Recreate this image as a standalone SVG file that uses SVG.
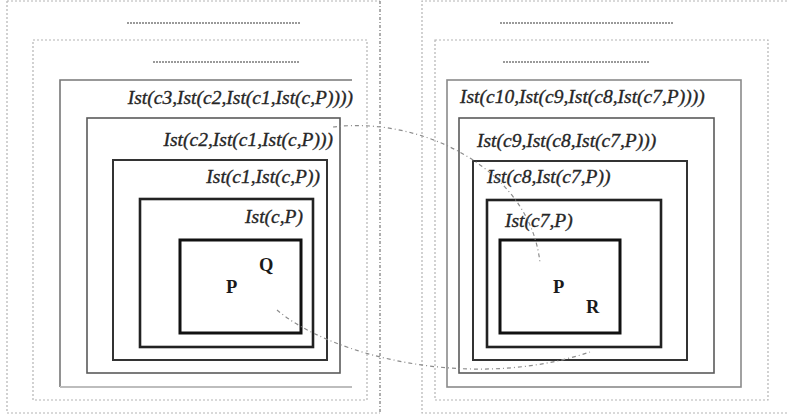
<svg xmlns="http://www.w3.org/2000/svg" width="787" height="416" viewBox="0 0 787 416">
  <style>
    .frame { fill: none; stroke: #b4b4b4; stroke-width: 1.2; stroke-dasharray: 2 2; }
    .frame-dark { fill: none; stroke: #777; stroke-width: 1.2; stroke-dasharray: 3 2 1 2; }
    .stub { fill: none; stroke: #9a9a9a; stroke-width: 1.8; stroke-dasharray: 2 1; }
    .b3 { fill: none; stroke: #8a8a8a; stroke-width: 1.6; }
    .b4 { fill: none; stroke: #5a5a5a; stroke-width: 1.6; }
    .b5 { fill: none; stroke: #333; stroke-width: 2; }
    .b6 { fill: none; stroke: #222; stroke-width: 2.6; }
    .b7 { fill: none; stroke: #111; stroke-width: 3; }
    .lbl { font-family: "Liberation Serif", "Times New Roman", serif; font-style: italic; font-size: 19.5px; fill: #262626; stroke: #262626; stroke-width: 0.35; }
    .sym { font-family: "Liberation Serif", "Times New Roman", serif; font-weight: bold; font-size: 18.5px; fill: #1a1a1a; }
    .link { fill: none; stroke: #8c8c8c; stroke-width: 1.2; stroke-dasharray: 4 3 1 3; }
  </style>

  <!-- left context tower -->
  <g id="left-outer">
    <path class="frame" d="M7,1 H380"/>
    <path class="frame" d="M7,1 V413 H380"/>
    <path class="frame-dark" d="M380,1 V413"/>
    <path class="stub" d="M127,23 H300"/>
  </g>
  <g id="left-frame2">
    <rect class="frame" x="33" y="40" width="334" height="360"/>
    <path class="stub" d="M153,62 H300"/>
  </g>
  <g id="left-c3">
    <path fill="none" stroke="#777" stroke-width="1.6" d="M352,80 H60 V387"/>
    <path fill="none" stroke="#bdbdbd" stroke-width="2" d="M60,387 H352"/>
    <text class="lbl" x="353" y="104" text-anchor="end">Ist(c3,Ist(c2,Ist(c1,Ist(c,P))))</text>
  </g>
  <g id="left-c2">
    <rect class="b4" x="87" y="118" width="253" height="255"/>
    <text class="lbl" x="333" y="146" text-anchor="end">Ist(c2,Ist(c1,Ist(c,P)))</text>
  </g>
  <g id="left-c1">
    <rect class="b5" x="113" y="160" width="214" height="200"/>
    <text class="lbl" x="320" y="183" text-anchor="end">Ist(c1,Ist(c,P))</text>
  </g>
  <g id="left-c">
    <rect class="b6" x="140" y="199" width="173" height="148"/>
    <text class="lbl" x="303" y="223" text-anchor="end">Ist(c,P)</text>
  </g>
  <g id="left-core">
    <rect class="b7" x="180" y="240" width="121" height="93"/>
    <text class="sym" x="259" y="271">Q</text>
    <text class="sym" x="226" y="293">P</text>
  </g>

  <!-- right context tower -->
  <g id="right-outer">
    <path class="frame" d="M787,1 H422 V413 H787"/>
    <path class="stub" d="M500,23 H673"/>
  </g>
  <g id="right-frame2">
    <rect class="frame" x="435" y="40" width="333" height="360"/>
    <path class="stub" d="M503,62 H650"/>
  </g>
  <g id="right-c10">
    <rect class="b3" x="447" y="80" width="294" height="307"/>
    <text class="lbl" x="460" y="103">Ist(c10,Ist(c9,Ist(c8,Ist(c7,P))))</text>
  </g>
  <g id="right-c9">
    <rect class="b4" x="459" y="118" width="255" height="255"/>
    <text class="lbl" x="477" y="147">Ist(c9,Ist(c8,Ist(c7,P)))</text>
  </g>
  <g id="right-c8">
    <rect class="b5" x="473" y="161" width="214" height="199"/>
    <text class="lbl" x="487" y="183">Ist(c8,Ist(c7,P))</text>
  </g>
  <g id="right-c7">
    <rect class="b6" x="487" y="200" width="174" height="147"/>
    <text class="lbl" x="505" y="227">Ist(c7,P)</text>
  </g>
  <g id="right-core">
    <rect class="b7" x="500" y="240" width="120" height="93" stroke="#333"/>
    <text class="sym" x="553" y="293">P</text>
    <text class="sym" x="586" y="313">R</text>
  </g>

  <!-- correspondences between the two towers -->
  <g id="connectors">
    <path class="link" d="M333,127 C420,116 530,168 540,263"/>
    <path class="link" d="M277,310 C330,355 470,392 590,352"/>
  </g>
</svg>
